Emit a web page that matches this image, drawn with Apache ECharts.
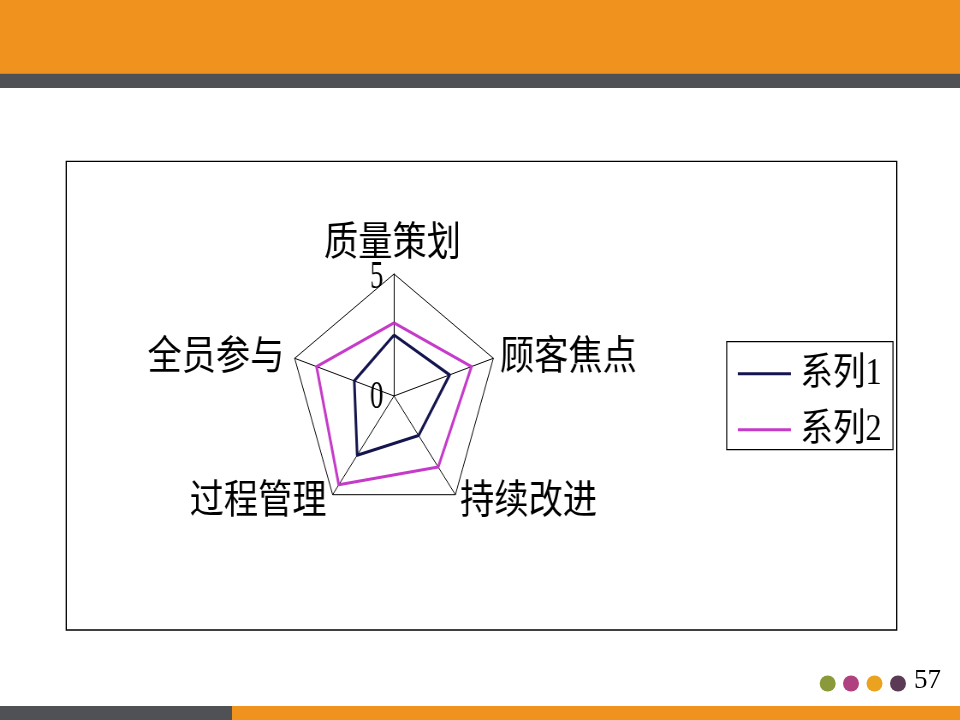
<!DOCTYPE html>
<html>
<head>
<meta charset="utf-8">
<script src="https://cdn.jsdelivr.net/npm/echarts@6.0.0/dist/echarts.min.js"></script>
<style>
html,body{margin:0;padding:0;width:960px;height:720px;overflow:hidden;background:#ffffff;}
#bg{position:absolute;left:0;top:0;width:960px;height:720px;}
#plot{position:absolute;left:0;top:0;width:1122px;height:720px;transform-origin:0 0;transform:scaleX(0.856);}
</style>
</head>
<body>
<div id="bg"></div>
<div id="plot"></div>
<script>
// ---- data ----
const categories = ['质量策划', '全员参与', '过程管理', '持续改进', '顾客焦点'];
const seriesNames = ['系列1', '系列2'];
const series1 = [2.5, 2, 3, 2, 2.8];
const series2 = [3, 3.9, 4.5, 3.6, 3.9];
const axisMin = 0;
const axisMax = 5;
const tickLabels = ['5', '0'];
const pageNumber = '57';

// ---- layout / style ----
const SX = 0.856;               // horizontal squeeze of the plot area
const px = x => x / SX;         // final x -> pre-transform x
const FONT = "'Liberation Serif', 'Noto Sans CJK SC', serif";
const colors = ['#14144e', '#c53ac8'];

const labelLayout = {
  '质量策划': [392.5, 244, 'center'],
  '全员参与': [284.5, 358, 'right'],
  '过程管理': [326.5, 502, 'right'],
  '持续改进': [460, 502, 'left'],
  '顾客焦点': [500, 358, 'left']
};
const tickLayout = [[376.7, 277], [376.7, 397.5]];

// ---- background slide ----
const bg = echarts.init(document.getElementById('bg'), null, {renderer: 'canvas'});
const dotColors = ['#8a9a3a', '#b0417f', '#eba31f', '#5b3a55'];
const dotX = [827.7, 851, 874.5, 898];
bg.setOption({
  animation: false,
  graphic: [
    {type: 'rect', shape: {x: 0, y: 0, width: 960, height: 73.5}, style: {fill: '#f0931e'}},
    {type: 'rect', shape: {x: 0, y: 73.5, width: 960, height: 14.5}, style: {fill: '#4f5155'}},
    {type: 'rect', shape: {x: 66.3, y: 161.3, width: 830.4, height: 468.7},
      style: {fill: 'none', stroke: '#000', lineWidth: 1.3}},
    {type: 'rect', shape: {x: 0, y: 706, width: 232, height: 14}, style: {fill: '#4f5155'}},
    {type: 'rect', shape: {x: 232, y: 706, width: 728, height: 14}, style: {fill: '#f0931e'}},
    ...dotColors.map((c, i) => ({type: 'circle', shape: {cx: dotX[i], cy: 683.5, r: 8}, style: {fill: c}})),
    {type: 'text', x: 914, y: 680.5,
      style: {text: pageNumber, fontSize: 27, fontFamily: FONT, fill: '#000', align: 'left', verticalAlign: 'middle'}}
  ]
});

// ---- radar plot ----
const plot = echarts.init(document.getElementById('plot'), null, {renderer: 'canvas'});
plot.setOption({
  animation: false,
  color: colors,
  legend: {
    orient: 'vertical',
    left: px(726.7),
    top: 341.7,
    padding: [13, 13.2, 1, 13],
    itemGap: 18,
    itemWidth: 62,
    itemHeight: 3,
    icon: 'rect',
    borderColor: '#000',
    borderWidth: 1.3,
    textStyle: {fontSize: 38, lineHeight: 38, fontFamily: FONT, color: '#000', padding: [0, 0, 0, 6]},
    data: seriesNames
  },
  radar: {
    center: [px(394), 396],
    radius: 122,
    startAngle: 90,
    shape: 'polygon',
    splitNumber: 1,
    indicator: categories.map(n => ({name: n, min: axisMin, max: axisMax})),
    axisName: {show: false},
    axisLine: {lineStyle: {color: '#000', width: 1}},
    splitLine: {lineStyle: {color: '#000', width: 1}},
    splitArea: {show: false},
    axisTick: {show: false},
    axisLabel: {show: false}
  },
  series: [
    {type: 'radar', name: seriesNames[0], symbol: 'none',
      itemStyle: {color: colors[0]}, lineStyle: {color: colors[0], width: 3},
      data: [{name: seriesNames[0], value: series1}]},
    {type: 'radar', name: seriesNames[1], symbol: 'none',
      itemStyle: {color: colors[1]}, lineStyle: {color: colors[1], width: 3},
      data: [{name: seriesNames[1], value: series2}]}
  ],
  graphic: [
    ...categories.map(n => {
      const p = labelLayout[n];
      return {type: 'text', x: px(p[0]), y: p[1],
        style: {text: n, fontSize: 40, fontFamily: FONT, fill: '#000', align: p[2], verticalAlign: 'middle'}};
    }),
    ...tickLabels.map((t, i) => ({type: 'text', x: px(tickLayout[i][0]), y: tickLayout[i][1], scaleX: 0.78,
      style: {text: t, fontSize: 40, fontFamily: FONT, fill: '#000', align: 'center', verticalAlign: 'middle'}}))
  ]
});
</script>
</body>
</html>
